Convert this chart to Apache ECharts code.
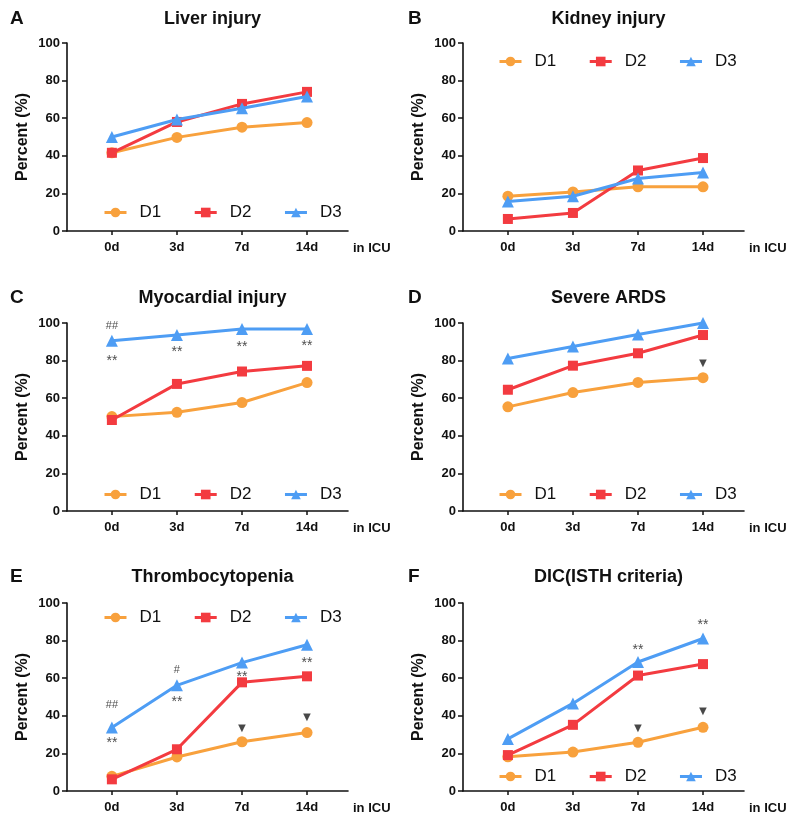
<!DOCTYPE html>
<html>
<head>
<meta charset="utf-8">
<script src="https://cdn.jsdelivr.net/npm/echarts@6/dist/echarts.min.js"></script>
<style>
html,body{margin:0;padding:0;background:#fff;}
#chart{width:792px;height:818px;}
</style>
</head>
<body>
<div id="chart"></div>
<script>
// ---- data ----
const categories = ['0d', '3d', '7d', '14d'];
const seriesNames = ['D1', 'D2', 'D3'];
const yTicks = [0, 20, 40, 60, 80, 100];

const panelLetters = ['A', 'B', 'C', 'D', 'E', 'F'];
const panelTitles = ['Liver injury', 'Kidney injury', 'Myocardial injury', 'Severe ARDS', 'Thrombocytopenia', 'DIC(ISTH criteria)'];

const liverD1 = [41.6, 49.8, 55.2, 57.7];
const liverD2 = [41.6, 58.0, 67.6, 74.0];
const liverD3 = [50.0, 59.3, 65.3, 71.5];

const kidneyD1 = [18.5, 20.8, 23.5, 23.5];
const kidneyD2 = [6.4, 9.6, 32.2, 38.8];
const kidneyD3 = [15.7, 18.5, 27.9, 31.1];

const myoD1 = [50.2, 52.5, 57.7, 68.3];
const myoD2 = [48.4, 67.6, 74.2, 77.2];
const myoD3 = [90.6, 93.6, 96.8, 96.8];

const ardsD1 = [55.4, 63.0, 68.4, 70.9];
const ardsD2 = [64.5, 77.3, 83.9, 93.6];
const ardsD3 = [81.1, 87.5, 93.9, 100.0];

const thrD1 = [7.8, 18.1, 26.2, 31.1];
const thrD2 = [6.2, 22.2, 57.8, 61.0];
const thrD3 = [33.8, 56.2, 68.3, 77.8];

const dicD1 = [18.2, 20.7, 25.9, 33.9];
const dicD2 = [19.1, 35.2, 61.4, 67.5];
const dicD3 = [27.7, 46.6, 68.6, 81.1];

// significance marks: [category index, value level, text]
const liverMarks = [];
const kidneyMarks = [];
const myoMarks = [[0, 98.2, '##'], [0, 81.3, '**'], [1, 86.3, '**'], [2, 89.0, '**'], [3, 89.3, '**']];
const ardsMarks = [[2, 100.4, '*'], [3, 105.7, '**'], [3, 78.4, '▼']];
const thrMarks = [[0, 45.7, '##'], [0, 27.0, '**'], [1, 64.4, '#'], [1, 48.8, '**'], [2, 62.3, '**'], [2, 33.3, '▼'], [3, 69.8, '**'], [3, 39.0, '▼']];
const dicMarks = [[2, 76.3, '**'], [2, 33.4, '▼'], [3, 89.6, '**'], [3, 42.3, '▼']];

const panelData = [
  [liverD1, liverD2, liverD3],
  [kidneyD1, kidneyD2, kidneyD3],
  [myoD1, myoD2, myoD3],
  [ardsD1, ardsD2, ardsD3],
  [thrD1, thrD2, thrD3],
  [dicD1, dicD2, dicD3]
];
const panelMarks = [liverMarks, kidneyMarks, myoMarks, ardsMarks, thrMarks, dicMarks];

// ---- layout & style ----
const colors = ['#F8A13D', '#F33B40', '#4E9DF4'];
const symbols = ['circle', 'rect', 'triangle'];
const symbolSizes = [11, 10, 12];
const gridLefts = [67, 463];
const gridTops = [43, 323, 603];
const legendTops = [199, 48, 481, 481, 604, 763];
const legendLefts = [98, 493];
const titleTops = [14, 293, 572];
const FONT = '"Liberation Sans", Arial, Helvetica, sans-serif';
const TXT = '#111';

const option = {
  animation: false,
  backgroundColor: '#fff',
  textStyle: { fontFamily: FONT },
  title: [], grid: [], xAxis: [], yAxis: [], legend: [], series: []
};

for (let p = 0; p < 6; p++) {
  const col = p % 2, row = Math.floor(p / 2);
  const gl = gridLefts[col], gt = gridTops[row];
  option.grid.push({ left: gl, top: gt, width: 281, height: 188, containLabel: false });
  option.title.push({
    text: panelTitles[p], left: gl + 140.5, top: titleTops[row], textAlign: 'center', textVerticalAlign: 'middle',
    textStyle: { fontFamily: FONT, fontWeight: 'bold', fontSize: 18, color: TXT }
  });
  option.title.push({
    text: panelLetters[p], left: col === 0 ? 5 : 403, top: titleTops[row], textVerticalAlign: 'middle',
    textStyle: { fontFamily: FONT, fontWeight: 'bold', fontSize: 19, color: TXT }
  });
  option.xAxis.push({
    type: 'value', gridIndex: p, min: -0.69, max: 3.63,
    name: 'in ICU', nameLocation: 'end', nameGap: 5,
    nameTextStyle: { fontFamily: FONT, fontWeight: 'bold', fontSize: 13, color: TXT, align: 'left', verticalAlign: 'top', padding: [11, 0, 0, 0] },
    axisLine: { onZero: false, lineStyle: { color: '#111', width: 1.6 } },
    axisTick: { show: true, length: 4, customValues: [0, 1, 2, 3], lineStyle: { color: '#111', width: 1.5 } },
    axisLabel: {
      customValues: [0, 1, 2, 3], margin: 10,
      formatter: v => categories[Math.round(v)] || '',
      fontFamily: FONT, fontWeight: 'bold', fontSize: 13, color: TXT
    },
    splitLine: { show: false }
  });
  option.yAxis.push({
    type: 'value', gridIndex: p, min: 0, max: 100, interval: 20,
    name: 'Percent (%)', nameLocation: 'middle', nameGap: 36,
    nameTextStyle: { fontFamily: FONT, fontWeight: 'bold', fontSize: 16, color: TXT },
    axisLine: { show: true, onZero: false, lineStyle: { color: '#111', width: 1.6 } },
    axisTick: { show: true, length: 5, lineStyle: { color: '#111', width: 1.5 } },
    axisLabel: { margin: 7, fontFamily: FONT, fontWeight: 'bold', fontSize: 13, color: TXT },
    splitLine: { show: false }
  });
  option.legend.push({
    data: seriesNames, left: legendLefts[col], top: legendTops[p], orient: 'horizontal',
    itemWidth: 22, itemHeight: 12, itemGap: 32,
    lineStyle: { width: 3 },
    textStyle: { fontFamily: FONT, fontSize: 17, color: TXT, padding: [0, 0, 0, 8] },
    selectedMode: false
  });
  for (let s = 0; s < 3; s++) {
    option.series.push({
      name: seriesNames[s], type: 'line', xAxisIndex: p, yAxisIndex: p,
      data: panelData[p][s].map((v, i) => [i, v]),
      symbol: symbols[s], symbolSize: symbolSizes[s],
      lineStyle: { color: colors[s], width: 3 },
      itemStyle: { color: colors[s] },
      z: 2 + s
    });
  }
  option.series.push({
    type: 'scatter', xAxisIndex: p, yAxisIndex: p, silent: true, symbolSize: 0,
    data: panelMarks[p].map(m => ({
      value: [m[0], m[1]],
      label: {
        show: true, position: 'inside', formatter: m[2],
        fontFamily: FONT, color: '#1a1a1a',
        fontSize: m[2].indexOf('*') >= 0 ? 14 : (m[2] === '▼' ? 13 : 11),
        offset: m[2].indexOf('*') >= 0 ? [0, 3] : [0, 0]
      }
    })),
    z: 10
  });
}

const chart = echarts.init(document.getElementById('chart'), null, { renderer: 'canvas' });
chart.setOption(option);
</script>
</body>
</html>
